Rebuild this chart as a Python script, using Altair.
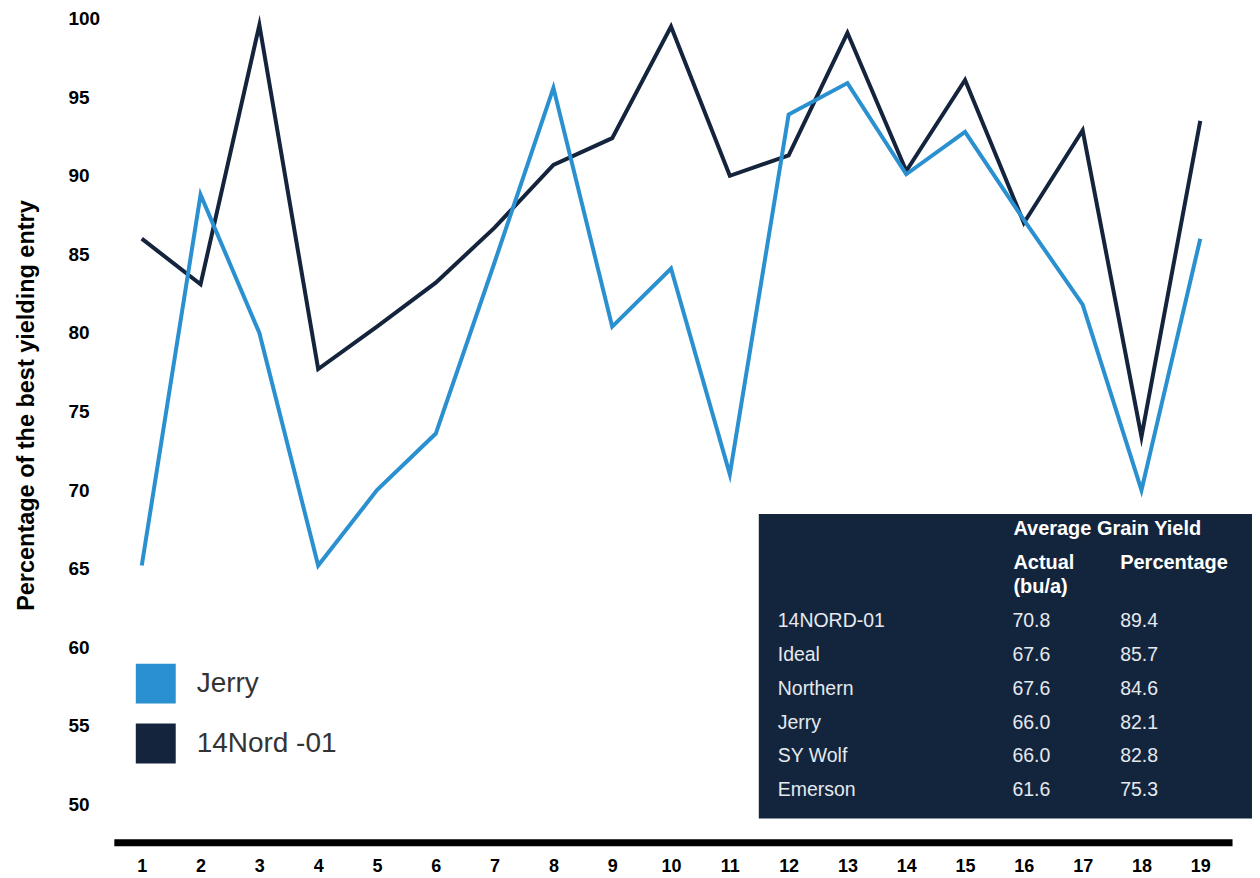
import altair as alt
import pandas as pd

# ---------------- data ----------------
plots = list(range(1, 20))
jerry = [65.2, 88.8, 80.0, 65.2, 70.0, 73.6, 84.5, 95.6, 80.4, 84.1,
         71.0, 93.9, 95.9, 90.1, 92.8, 87.2, 81.8, 70.0, 86.0]
nord = [86.0, 83.1, 99.6, 77.7, 80.4, 83.2, 86.7, 90.7, 92.4, 99.5,
        90.0, 91.3, 99.1, 90.3, 96.1, 87.0, 92.9, 73.4, 93.5]
series_names = ["Jerry", "14Nord -01"]
series_colors = ["#2a90d0", "#13243c"]
y_ticks = [50, 55, 60, 65, 70, 75, 80, 85, 90, 95, 100]

entries = ["14NORD-01", "Ideal", "Northern", "Jerry", "SY Wolf", "Emerson"]
actual = ["70.8", "67.6", "67.6", "66.0", "66.0", "61.6"]
percentage = ["89.4", "85.7", "84.6", "82.1", "82.8", "75.3"]
table_title = "Average Grain Yield"
head_actual = "Actual"
head_unit = "(bu/a)"
head_pct = "Percentage"

FONT = "Liberation Sans"

line_df = pd.DataFrame({
    "plot": plots + plots,
    "value": nord + jerry,
    "variety": [series_names[1]] * len(plots) + [series_names[0]] * len(plots),
})

color_scale = alt.Scale(domain=series_names, range=series_colors)
legend_def = alt.Legend(title=None, orient="none", legendX=22, legendY=656,
                        symbolType="square", symbolSize=1600, symbolStrokeWidth=0,
                        symbolOpacity=1, labelFont=FONT, labelFontSize=28,
                        labelColor="#333333", labelOffset=21, rowPadding=20,
                        padding=0)

# invisible filled squares: they only supply the filled legend swatches
legend_src = alt.Chart(pd.DataFrame({"variety": series_names})).mark_square(
    opacity=0, filled=True
).encode(
    color=alt.Color("variety:N", scale=color_scale, legend=legend_def)
)

lines = alt.Chart(line_df).mark_line(
    strokeWidth=4, strokeJoin="miter", strokeMiterLimit=10, strokeCap="butt"
).encode(
    x=alt.X("plot:Q",
            scale=alt.Scale(domain=[0.525, 19.54], nice=False, zero=False),
            axis=alt.Axis(values=plots, format="d", title=None, grid=False,
                          ticks=False, tickSize=0, domain=True, domainColor="black",
                          domainWidth=7, labelFont=FONT, labelFontSize=18,
                          labelFontWeight="bold", labelColor="black",
                          labelPadding=15, labelFlush=False)),
    y=alt.Y("value:Q",
            scale=alt.Scale(domain=[47.586, 100.635], nice=False, zero=False),
            axis=alt.Axis(values=y_ticks, title="Percentage of the best yielding entry",
                          grid=False, ticks=False, tickSize=0, domain=False,
                          labelAlign="left", labelBaseline="middle", labelPadding=46,
                          labelFont=FONT, labelFontSize=19, labelFontWeight="bold",
                          labelColor="black",
                          titleFont=FONT, titleFontSize=23.5, titleFontWeight="bold",
                          titleColor="black", titleX=-87, titleY=397, titleAngle=270,
                          titleAlign="center", titleBaseline="middle")),
    color=alt.Color("variety:N", scale=color_scale, legend=legend_def),
)

# ---------------- table panel ----------------
panel = alt.Chart(pd.DataFrame({"k": [0]})).mark_rect(color="#13253d").encode(
    x=alt.value(646), x2=alt.value(1140), y=alt.value(506), y2=alt.value(811)
)

table_df = pd.DataFrame({"entry": entries, "actual": actual, "pct": percentage})
row_y = alt.Y("entry:N", sort=entries,
              scale=alt.Scale(range=[613, 783], padding=0), axis=None)

body_style = dict(align="left", baseline="middle", font=FONT, fontSize=19.5,
                  color="#e6e9ee")
col_names = alt.Chart(table_df).mark_text(**body_style).encode(
    x=alt.value(665), y=row_y, text="entry:N")
col_actual = alt.Chart(table_df).mark_text(**body_style).encode(
    x=alt.value(900), y=row_y, text="actual:N")
col_pct = alt.Chart(table_df).mark_text(**body_style).encode(
    x=alt.value(1008), y=row_y, text="pct:N")

head_style = dict(align="left", baseline="middle", font=FONT, fontSize=20,
                  fontWeight="bold", color="white")


def header(label, px, py):
    return alt.Chart(pd.DataFrame({"t": [label]})).mark_text(**head_style).encode(
        x=alt.value(px), y=alt.value(py), text="t:N")


heads = [
    header(table_title, 901, 521),
    header(head_actual, 901, 555),
    header(head_unit, 901, 579),
    header(head_pct, 1008, 555),
]

chart = alt.layer(legend_src, lines, panel, col_names, col_actual, col_pct,
                  *heads).resolve_scale(
    y="independent"
).properties(
    width=1120, height=835,
    autosize=alt.AutoSizeParams(type="none"),
    padding={"left": 106, "top": 0, "right": 20, "bottom": 35},
    background="white",
).configure_view(stroke=None)

chart.save("out.html", embed_options={"renderer": "svg", "actions": False})
